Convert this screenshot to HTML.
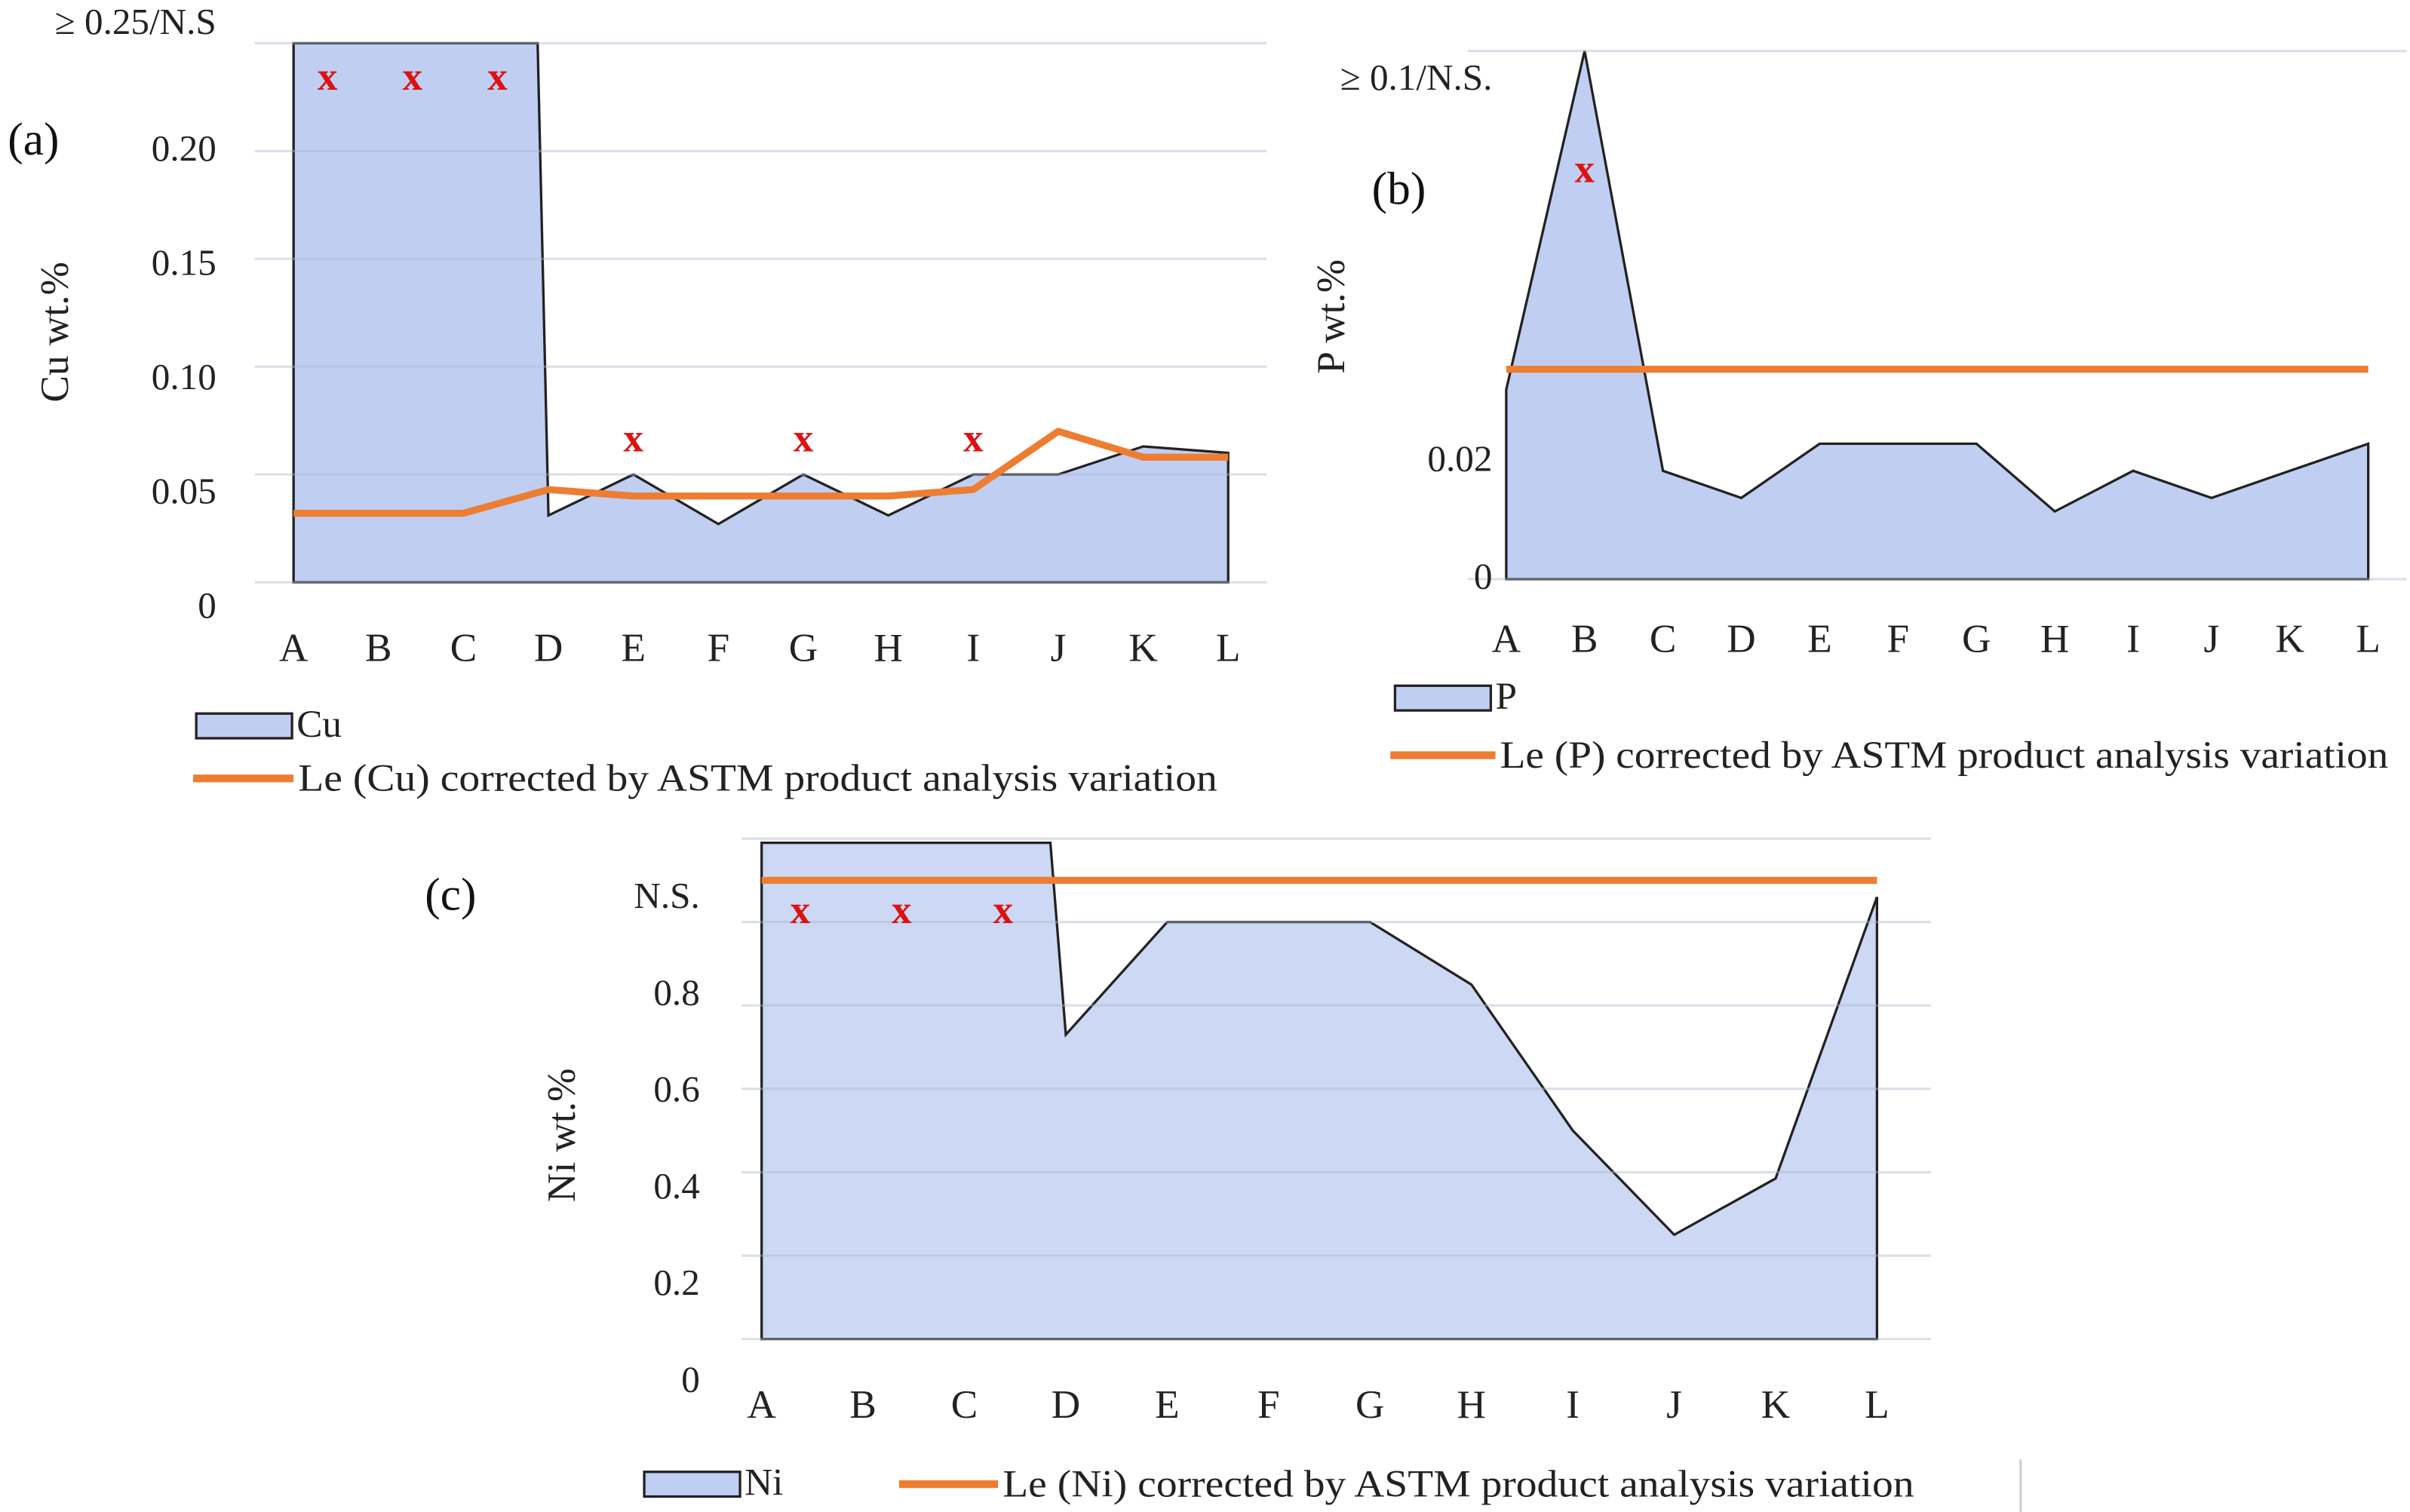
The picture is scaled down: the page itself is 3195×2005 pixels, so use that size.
<!DOCTYPE html>
<html><head><meta charset="utf-8"><style>
html,body{margin:0;padding:0;background:#fff;}
svg{display:block;font-family:"Liberation Serif",serif;}
</style></head><body>
<svg id="svg" width="3195" height="2005" viewBox="0 0 1560 979" xmlns="http://www.w3.org/2000/svg">
<g id="ga"></g>
<g id="gb"></g>
<g id="gc"></g>
</svg>
<script>
const cats = ["A","B","C","D","E","F","G","H","I","J","K","L"];
const cuValues = [0.25,0.25,0.25,0.031,0.05,0.027,0.05,0.031,0.05,0.05,0.063,0.06];
const cuLe = [0.032,0.032,0.032,0.043,0.04,0.04,0.04,0.04,0.043,0.07,0.058,0.058];
const cuTicks = [0,0.05,0.10,0.15,0.20,0.25];
const cuTickLabels = ["0","0.05","0.10","0.15","0.20","≥ 0.25/N.S"];
const cuMarks = [0,1,2,4,6,8];
const pValues = [0.028,0.078,0.016,0.012,0.02,0.02,0.02,0.01,0.016,0.012,0.016,0.02];
const pLe = [0.031,0.031,0.031,0.031,0.031,0.031,0.031,0.031,0.031,0.031,0.031,0.031];
const pTicks = [0,0.02,0.078];
const pTickLabels = ["0","0.02","≥ 0.1/N.S."];
const pMarks = [1];
const niValues = [1.19,1.19,1.19,0.73,1.0,1.0,1.0,0.85,0.5,0.25,0.385,1.06];
const niLe = [1.1,1.1,1.1,1.1,1.1,1.1,1.1,1.1,1.1,1.1,1.1,1.1];
const niTicks = [0,0.2,0.4,0.6,0.8,1.0];
const niTickLabels = ["0","0.2","0.4","0.6","0.8","N.S."];
const niGrid = [0,0.2,0.4,0.6,0.8,1.0,1.2];
const niMarks = [0,1,2];

const NS="http://www.w3.org/2000/svg";
function mk(parent,tag,attrs,text){const e=document.createElementNS(NS,tag);for(const k in attrs)e.setAttribute(k,attrs[k]);if(text!==undefined)e.textContent=text;parent.appendChild(e);return e;}

function chart(g,cfg){
  const n=cats.length;
  const step=(cfg.x1-cfg.x0)/(n-1);
  const x=i=>cfg.x0+i*step;
  const y=v=>cfg.yb-v*(cfg.yb-cfg.yt)/cfg.vmax;
  const ly=v=>cfg.lb-v*cfg.lstep;
  let d=`M${x(0)},${y(0)}`;
  cfg.vals.forEach((v,i)=>{
    d+=` L${x(i)},${y(v)}`;
    if(v>=cfg.cap && i<n-1 && cfg.vals[i+1]<cfg.cap && cfg.stepDrop) d+=` L${x(i+1)-cfg.stepDrop},${y(v)}`;
  });
  d+=` L${x(n-1)},${y(0)} Z`;
  const a=mk(g,'path',{d:d,fill:cfg.fill,stroke:'#222','stroke-width':1.6});
  
  
  cfg.grid.forEach(v=>{const l=mk(g,'line',{x1:cfg.gx0,x2:cfg.gx1,y1:y(v),y2:y(v),stroke:'#b0b8cc','stroke-opacity':0.45,'stroke-width':1.5});
    
    });
  const ld=cfg.le.map((v,i)=>`${i?'L':'M'}${x(i)},${y(v)}`).join(' ');
  const le=mk(g,'path',{d:ld,fill:'none',stroke:'#ed7d31','stroke-width':4.5,'stroke-linejoin':'round'});
  
  
  cfg.ticks.forEach((v,i)=>{
    const yy=(i===cfg.ticks.length-1 && cfg.topLabelY)?cfg.topLabelY:ly(v);
    const t=mk(g,'text',{x:cfg.tx,y:yy+8,'text-anchor':'end','font-size':24,fill:'#222'},cfg.tlabels[i]);
    
    });
  cats.forEach((c,i)=>{const t=mk(g,'text',{x:x(i),y:cfg.xly,'text-anchor':'middle','font-size':26,fill:'#222'},c);
    
    });
  cfg.marks.forEach(i=>{const v=cfg.vals[i];
    const capped=v>=cfg.cap;
    const yy=capped? y(v)+cfg.moffCap : y(v)-15;
    const t=mk(g,'text',{x:x(i)+(capped?cfg.mdx:0),y:yy,'text-anchor':'middle','font-size':26,'font-weight':'bold',fill:'#d11'},'x');
    
    });
}
const ga=document.getElementById('ga'),gb=document.getElementById('gb'),gc=document.getElementById('gc');
chart(ga,{x0:190,x1:795,yb:377,yt:28,vmax:0.25,cap:0.25,stepDrop:7,fill:'#c0cef2',gx0:165,gx1:820,grid:cuTicks,vals:cuValues,le:cuLe,ticks:cuTicks,tlabels:cuTickLabels,lb:392,lstep:1480,tx:140,xly:428,marks:cuMarks,moffCap:30,mdx:22,topLabelY:14});
chart(gb,{x0:975,x1:1533,yb:375,yt:33,vmax:0.078,cap:0.078,stepDrop:0,fill:'#c0cef2',gx0:950,gx1:1558,grid:[0,0.078],vals:pValues,le:pLe,ticks:pTicks,tlabels:pTickLabels,lb:373,lstep:3800,tx:966,xly:422,marks:pMarks,moffCap:85,mdx:0,topLabelY:50});
chart(gc,{x0:493,x1:1215,yb:867,yt:543,vmax:1.2,cap:1.19,stepDrop:10,fill:'#ccd8f4',gx0:480,gx1:1250,grid:niGrid,vals:niValues,le:niLe,ticks:niTicks,tlabels:niTickLabels,lb:893,lstep:313,tx:453,xly:918,marks:niMarks,moffCap:52,mdx:25});
</script>
<script>
const s=document.getElementById('svg');
function txt(attrs,content,name){const e=mk(s,'text',attrs,content);
  
  return e;}
txt({x:5,y:100,'font-size':30,fill:'#111'},'(a)','panel-label-a');
txt({x:888,y:132,'font-size':30,fill:'#111'},'(b)','panel-label-b');
txt({x:275,y:589,'font-size':30,fill:'#111'},'(c)','panel-label-c');
txt({x:0,y:0,'font-size':26,fill:'#222',transform:'translate(44,215) rotate(-90)','text-anchor':'middle'},'Cu wt.%','y-axis-title-a');
txt({x:0,y:0,'font-size':26,fill:'#222',transform:'translate(870,205) rotate(-90)','text-anchor':'middle'},'P wt.%','y-axis-title-b');
txt({x:0,y:0,'font-size':26,fill:'#222',transform:'translate(372,735) rotate(-90)','text-anchor':'middle'},'Ni wt.%','y-axis-title-c');
function legArea(x,y,label,name){const r=mk(s,'rect',{x:x,y:y,width:62,height:16,fill:'#c0cef2',stroke:'#222','stroke-width':1.6});
  
  
  txt({x:x+65,y:y+15,'font-size':25,fill:'#222'},label,name);}
function legLine(x,y,w,label,name,len){const l=mk(s,'line',{x1:x,x2:x+w,y1:y,y2:y,stroke:'#ed7d31','stroke-width':5});
  
  
  txt({x:x+w+3,y:y+8,'font-size':25,fill:'#222',textLength:len,lengthAdjust:'spacingAndGlyphs'},label,name);}
legArea(127,462,'Cu','legend-cu');
legLine(125,504,65,'Le (Cu) corrected by ASTM product analysis variation','legend-le-cu',595);
legArea(903,444,'P','legend-p');
legLine(900,489,68,'Le (P) corrected by ASTM product analysis variation','legend-le-p',575);
legArea(417,953,'Ni','legend-ni');
legLine(582,961,64,'Le (Ni) corrected by ASTM product analysis variation','legend-le-ni',590);
const sep=mk(s,'line',{x1:1308,x2:1308,y1:945,y2:979,stroke:'#ccc','stroke-width':1.5});


</script>
</body></html>
